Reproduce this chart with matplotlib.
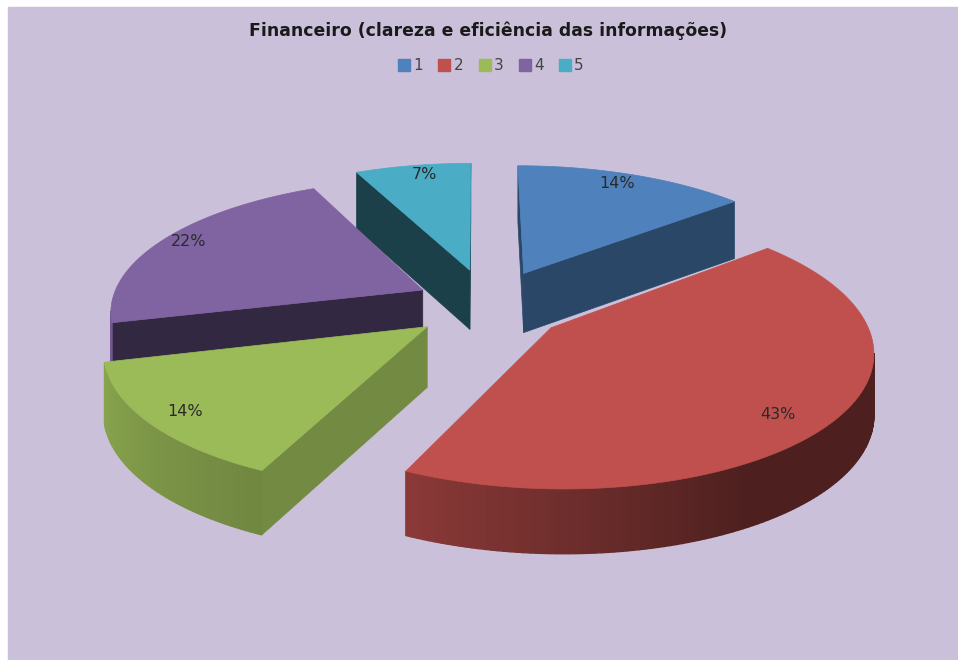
import matplotlib
matplotlib.use('Agg')
import matplotlib.pyplot as plt
from matplotlib.patches import Polygon, Rectangle
from matplotlib.lines import Line2D
import numpy as np

# Dados do grafico
categorias = ['1', '2', '3', '4', '5']
valores = [14, 43, 14, 22, 7]
cores = ['#4F81BD', '#C0504D', '#9BBB59', '#8064A2', '#4BACC6']

# Aparencia do "3D" (estilo Excel)
desloc_u = [0.150, 0.225, -0.157, -0.178, -0.027]
desloc_v = [0.232, -0.183, -0.175, 0.100, 0.258]
tamanho = [1.0, 0.98, 0.985, 0.99, 1.0]
sombra_lado = [0.55, 0.40, 0.74, 0.40, 0.37]
rotulo_r = [0.89, 0.84, 0.87, 0.90, 0.895]
rotulo_da = [-1.4, 4.5, 0.0, 1.0, 1.5]
cx, cy = 478, 303
raio, achat, persp, altura = 315, 132, 0.15, 60


def projeta(u, v, z=0):
    s = 1 / (1 + persp * v)
    return cx + raio * u * s, cy - achat * v * s + altura * z * s ** 0.4


def escurece(cor, f):
    return tuple(c * f for c in matplotlib.colors.to_rgb(cor))


def sombra_arco(t):
    return np.interp(t, [90, 150, 205, 255, 300], [0.40, 0.40, 0.72, 0.88, 0.88])


def area(p):
    x, y = np.array(p).T
    return 0.5 * np.sum(x * np.roll(y, -1) - np.roll(x, -1) * y)


fig = plt.figure(figsize=(9.58, 6.60), dpi=100)
ax = fig.add_axes([0, 0, 1, 1])
ax.set_xlim(0, 958)
ax.set_ylim(660, 0)
ax.axis('off')
ax.add_patch(Rectangle((8, 7), 950, 653, color='#CBC0DA', zorder=0))

limites = np.cumsum([0] + valores) / sum(valores) * 360
ordem = [4, 0, 3, 2, 1]  # de tras para frente
for i in ordem:
    ini, fim = limites[i], limites[i + 1]
    meio = (ini + fim) / 2
    u0, v0 = desloc_u[i], desloc_v[i]
    ang = np.linspace(ini, fim, int(fim - ini) + 2)
    us = u0 + tamanho[i] * np.sin(np.radians(ang))
    vs = v0 + tamanho[i] * np.cos(np.radians(ang))

    # paredes radiais
    for k in [0, -1]:
        q = [projeta(u0, v0), projeta(us[k], vs[k]), projeta(us[k], vs[k], 1), projeta(u0, v0, 1)]
        if (area(q) < 0) == (k == 0):
            cor = escurece(cores[i], sombra_lado[i])
            ax.add_patch(Polygon(q, closed=True, fc=cor, ec=cor, lw=0.5, zorder=2))

    # parede externa, em faixas para dar o degrade
    for a in range(len(ang) - 1):
        q = [projeta(us[a], vs[a]), projeta(us[a + 1], vs[a + 1]),
             projeta(us[a + 1], vs[a + 1], 1), projeta(us[a], vs[a], 1)]
        if area(q) < 0:
            cor = escurece(cores[i], sombra_arco((ang[a] + ang[a + 1]) / 2))
            ax.add_patch(Polygon(q, closed=True, fc=cor, ec=cor, lw=1.0, zorder=2))

    # topo da fatia
    topo = [projeta(u0, v0)] + [projeta(a, b) for a, b in zip(us, vs)]
    ax.add_patch(Polygon(topo, closed=True, fc=cores[i], ec=cores[i], lw=0.5, zorder=2))

    # rotulo
    t = np.radians(meio + rotulo_da[i])
    lx, ly = projeta(u0 + rotulo_r[i] * np.sin(t), v0 + rotulo_r[i] * np.cos(t))
    ax.text(lx, ly, f'{valores[i]}%', fontsize=11.5, color='#2a2a2a',
            ha='center', va='center', zorder=5)

ax.text(488, 31, 'Financeiro (clareza e eficiência das informações)', fontsize=12.4,
        fontweight='bold', color='#1a1a1a', ha='center', va='center')

marcadores = [Line2D([], [], ls='none', marker='s', ms=8, color=c) for c in cores]
ax.legend(marcadores, categorias, ncol=5, loc='center', bbox_to_anchor=(491 / 958, 1 - 66 / 660),
          frameon=False, fontsize=11, handlelength=0.8, handletextpad=0.2, columnspacing=1.0,
          labelcolor='#444444')

fig.savefig('out.png', dpi=100, facecolor='white')
